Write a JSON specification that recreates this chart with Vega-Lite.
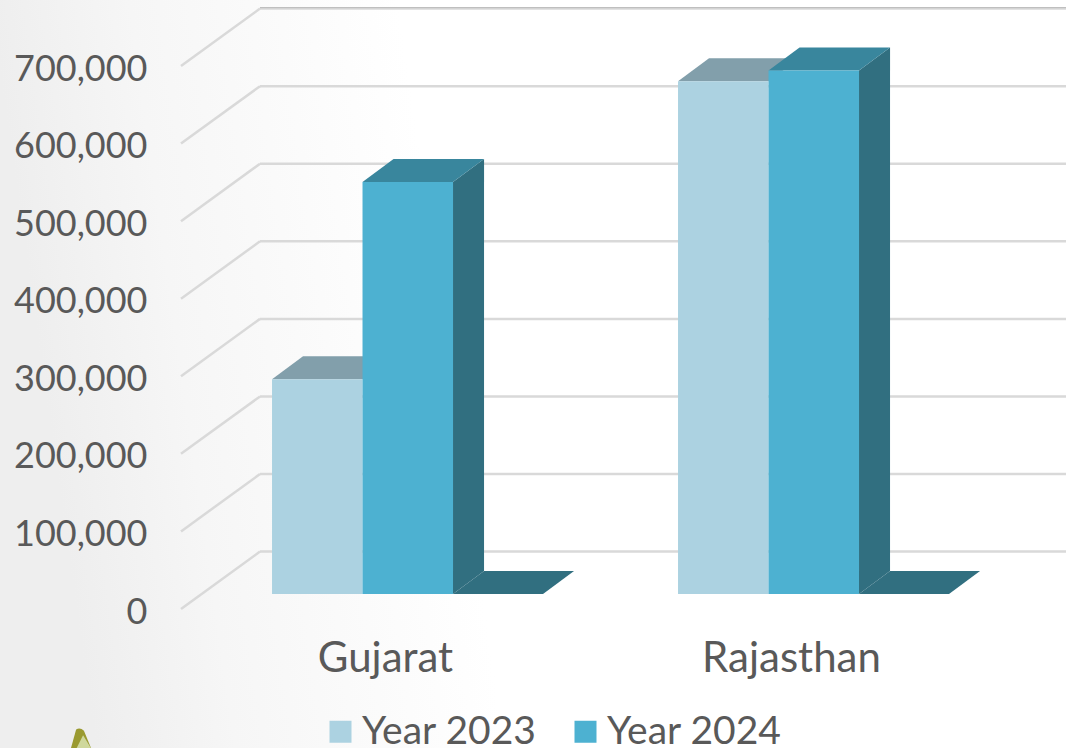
{
"$schema":"https://vega.github.io/schema/vega-lite/v6.json",
"autosize":{"type":"none"},
"padding":{"left":181,"top":0,"right":0,"bottom":139},
"width":885,"height":609,
"background":"#ffffff",
"config":{"view":{"stroke":null},"font":"Lato"},
"datasets":{
"bars":[
{"region":"Gujarat","year":"Year 2023","value":277000},
{"region":"Gujarat","year":"Year 2024","value":531000},
{"region":"Rajasthan","year":"Year 2023","value":661000},
{"region":"Rajasthan","year":"Year 2024","value":675000}],
"ticks":[{"tick":0},{"tick":100000},{"tick":200000},{"tick":300000},{"tick":400000},{"tick":500000},{"tick":600000},{"tick":700000}],
"one":[{"item":"backdrop"}]
},
"layer":[
{"data":{"name":"one"},"mark":{"type":"rect","clip":false,"color":{"gradient":"linear","x1":0,"y1":0.1,"x2":1,"y2":0,"stops":[{"offset":0,"color":"#eeeeee"},{"offset":0.13,"color":"#f6f6f6"},{"offset":0.38,"color":"#ffffff"},{"offset":1,"color":"#ffffff"}]}},
"encoding":{
"x":{"datum":0.0517,"type":"quantitative","scale":{"domain":[0.4975,2.6773],"nice":false,"zero":false},
"axis":{"zindex":1,"values":[1,2],"labelExpr":"datum.value==1?'Gujarat':'Rajasthan'","title":null,"domain":false,"ticks":false,"grid":false,"labelFontSize":42,"labelColor":"#595959","labelPadding":29,"labelOverlap":false,"labelFlush":false,"labelFont":"Lato"}},
"x2":{"datum":2.6773},
"y":{"datum":785083,"type":"quantitative","scale":{"domain":[0,785083],"nice":false,"zero":false},
"axis":{"zindex":1,"values":[0,100000,200000,300000,400000,500000,600000,700000],"labelExpr":"format(datum.value,',')","title":null,"domain":false,"ticks":false,"grid":false,"labelFontSize":36,"labelColor":"#595959","labelPadding":34,"labelOffset":3,"labelOverlap":false,"labelFlush":false,"labelFont":"Lato"}},
"y2":{"datum":-179124}}},
{"data":{"name":"ticks"},"transform":[{"calculate":"datum.tick+74000","as":"back"}],
"mark":{"type":"rule","color":"#d9d9d9","strokeWidth":2.5,"clip":false},
"encoding":{"x":{"datum":0.4975,"type":"quantitative"},"x2":{"datum":0.6921},"y":{"field":"tick","type":"quantitative"},"y2":{"field":"back"}}},
{"data":{"name":"ticks"},"transform":[{"calculate":"datum.tick+74000","as":"back"}],
"mark":{"type":"rule","color":"#d9d9d9","strokeWidth":2.5,"clip":false},
"encoding":{"x":{"datum":0.6921,"type":"quantitative"},"x2":{"datum":2.6773},"y":{"field":"back","type":"quantitative"}}},
{"data":{"name":"ticks"},"transform":[{"filter":"datum.tick==700000"},{"calculate":"datum.tick+75200","as":"back"}],
"mark":{"type":"rule","color":"#b8b8b8","strokeWidth":1,"clip":false},
"encoding":{"x":{"datum":0.6921,"type":"quantitative"},"x2":{"datum":2.6773},"y":{"field":"back","type":"quantitative"}}},
{"data":{"name":"bars"},"transform":[{"filter":"datum.year=='Year 2024'"},
{"calculate":"[0,1]","as":"d"},{"flatten":["d"]},
{"calculate":"(datum.region=='Gujarat'?1:2)-0.0554+0.2229+datum.d*0.0764","as":"fl"},
{"calculate":"datum.fl+0.2217","as":"fr"},
{"calculate":"19330+datum.d*29640","as":"fy"}],
"mark":{"type":"area","orient":"horizontal","color":"#316f80","clip":false},
"encoding":{"y":{"field":"fy","type":"quantitative","stack":null},"x":{"field":"fl","type":"quantitative","stack":null},"x2":{"field":"fr"},"detail":{"field":"region"}}},
{"data":{"name":"bars"},"transform":[{"filter":"datum.year=='Year 2024'"},
{"calculate":"[0,1]","as":"d"},{"flatten":["d"]},
{"calculate":"(datum.region=='Gujarat'?1:2)-0.0554+0.2229+datum.d*0.0764","as":"sx"},
{"calculate":"datum.value+19330+datum.d*29640","as":"st"},
{"calculate":"19330+datum.d*29640","as":"sb"}],
"mark":{"type":"area","orient":"vertical","color":"#316f80","clip":false},
"encoding":{"x":{"field":"sx","type":"quantitative","stack":null},"y":{"field":"st","type":"quantitative","stack":null},"y2":{"field":"sb"},"detail":{"field":"region"}}},
{"data":{"name":"bars"},"transform":[{"filter":"datum.year=='Year 2023'"},
{"calculate":"[0,1]","as":"d"},{"flatten":["d"]},
{"calculate":"(datum.region=='Gujarat'?1:2)-0.2783+datum.d*0.0764","as":"tl"},
{"calculate":"datum.tl+0.2229","as":"tr"},
{"calculate":"datum.value+19330+datum.d*29640","as":"ty"}],
"mark":{"type":"area","orient":"horizontal","color":"#829fab","clip":false},
"encoding":{"y":{"field":"ty","type":"quantitative","stack":null},"x":{"field":"tl","type":"quantitative","stack":null},"x2":{"field":"tr"},"detail":{"field":"region"}}},
{"data":{"name":"bars"},"transform":[{"filter":"datum.year=='Year 2024'"},
{"calculate":"[0,1]","as":"d"},{"flatten":["d"]},
{"calculate":"(datum.region=='Gujarat'?1:2)-0.0554+datum.d*0.0764","as":"tl"},
{"calculate":"datum.tl+0.2229","as":"tr"},
{"calculate":"datum.value+19330+datum.d*29640","as":"ty"}],
"mark":{"type":"area","orient":"horizontal","color":"#39869d","clip":false},
"encoding":{"y":{"field":"ty","type":"quantitative","stack":null},"x":{"field":"tl","type":"quantitative","stack":null},"x2":{"field":"tr"},"detail":{"field":"region"}}},
{"data":{"name":"bars"},"transform":[
{"calculate":"(datum.region=='Gujarat'?1:2)-0.2783+(datum.year=='Year 2024'?0.2229:0)","as":"bl"},
{"calculate":"datum.bl+0.2229","as":"br"},
{"calculate":"datum.value+19330","as":"bt"},
{"calculate":"19330","as":"bb"}],
"mark":{"type":"rect","clip":false},
"encoding":{"x":{"field":"bl","type":"quantitative"},"x2":{"field":"br"},"y":{"field":"bt","type":"quantitative"},"y2":{"field":"bb"},
"color":{"field":"year","type":"nominal","scale":{"domain":["Year 2023","Year 2024"],"range":["#acd2e1","#4db1d1"]},
"legend":{"title":null,"orient":"none","legendX":140,"legendY":712,"direction":"horizontal","symbolType":"square","symbolSize":484,"symbolStrokeWidth":0,"labelFontSize":39,"labelColor":"#595959","labelOffset":2,"labelLimit":400,"columnPadding":29,"padding":0,"labelFont":"Lato"}}}},
{"data":{"name":"one"},"mark":{"type":"point","filled":true,"color":"#9a9a30","opacity":1,"size":676,"clip":false,"shape":"M-0.8,1 L-0.3,-0.8 Q0,-1 0.3,-0.7 L1,1 Z"},
"encoding":{"x":{"datum":0.2488,"type":"quantitative"},"y":{"datum":-168800,"type":"quantitative"}}},
{"data":{"name":"one"},"mark":{"type":"point","filled":true,"color":"#cfd89c","opacity":1,"size":400,"clip":false,"shape":"M-1,1 L-0.1,-0.8 L1,1 Z"},
"encoding":{"x":{"datum":0.2588,"type":"quantitative"},"y":{"datum":-173000,"type":"quantitative"}}}
]
}
